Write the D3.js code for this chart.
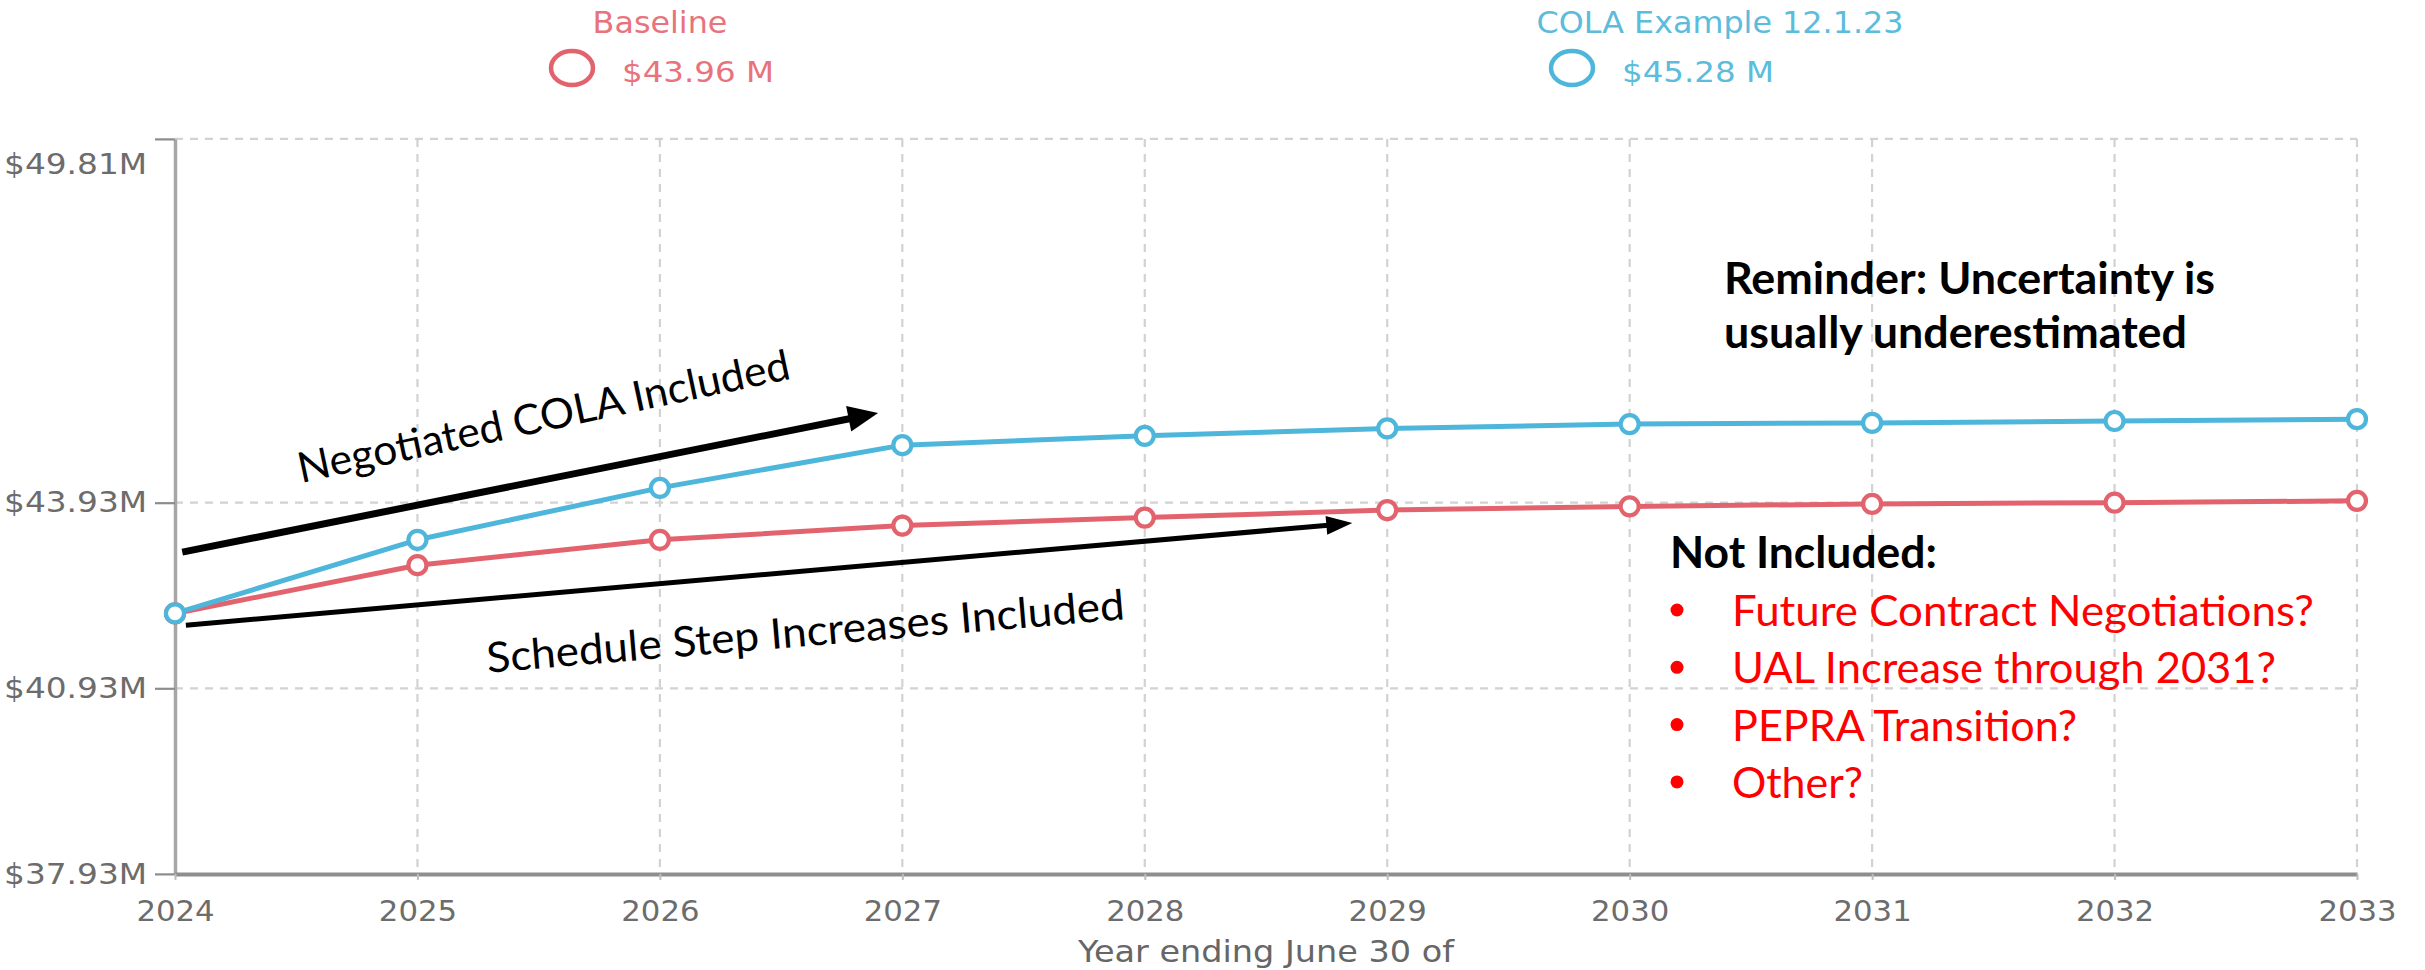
<!DOCTYPE html>
<html>
<head>
<meta charset="utf-8">
<script src="https://cdn.jsdelivr.net/npm/d3@7"></script>
<style>
  html, body { margin: 0; padding: 0; background: #ffffff; }
  svg { display: block; }
</style>
</head>
<body>
<svg id="chart" width="2425" height="970"></svg>
<script>
// ---- Data ----
const years = [2024, 2025, 2026, 2027, 2028, 2029, 2030, 2031, 2032, 2033];
const baselineValues = [42.14, 42.92, 43.33, 43.56, 43.69, 43.81, 43.87, 43.91, 43.93, 43.96];
const colaValues     = [42.14, 43.33, 44.17, 44.86, 45.01, 45.13, 45.20, 45.22, 45.25, 45.28];
const seriesNames  = ["Baseline", "COLA Example 12.1.23"];
const seriesTotals = ["$43.96 M", "$45.28 M"];
const yTickValues  = [37.93, 40.93, 43.93, 49.81];
const xAxisTitle   = "Year ending June 30 of";

const reminderLines   = ["Reminder: Uncertainty is", "usually underestimated"];
const notIncludedHead = "Not Included:";
const notIncludedList = ["Future Contract Negotiations?", "UAL Increase through 2031?", "PEPRA Transition?", "Other?"];
const colaArrowLabel     = "Negotiated COLA Included";
const scheduleArrowLabel = "Schedule Step Increases Included";

// ---- Styles ----
const RED = "#e2636d";
const BLUE = "#4db6da";
const RED_TEXT = "#e8737c";
const BLUE_TEXT = "#5bbcdc";
const TICK_TEXT = "#6c6c6c";
const GRID = "#d2d2d2";
const CHART_FONT = "'DejaVu Sans', Verdana, sans-serif";
const NOTE_FONT = "Lato, 'Open Sans', sans-serif";

const svg = d3.select("#chart");

const x = d3.scaleLinear().domain([2024, 2033]).range([175, 2357]);
const y = d3.scaleLinear().domain([37.93, 49.81]).range([873.9, 138.9]);

// widen a text element horizontally by factor k, keeping its anchor
function stretch(sel, k) {
  sel.each(function () {
    const w = this.getComputedTextLength();
    d3.select(this).attr("textLength", w * k).attr("lengthAdjust", "spacingAndGlyphs");
  });
}

// ---- Grid ----
const grid = svg.append("g");
grid.selectAll("line.h")
  .data(yTickValues.filter(v => v !== y.domain()[0]))
  .join("line")
  .attr("class", "h")
  .attr("x1", x(2024)).attr("x2", x(2033))
  .attr("y1", d => y(d)).attr("y2", d => y(d))
  .attr("stroke", GRID).attr("stroke-width", 2.2)
  .attr("stroke-dasharray", "8,7");
grid.selectAll("line.v")
  .data(years.slice(1))
  .join("line")
  .attr("class", "v")
  .attr("x1", d => x(d)).attr("x2", d => x(d))
  .attr("y1", y(49.81)).attr("y2", y(37.93))
  .attr("stroke", GRID).attr("stroke-width", 2.2)
  .attr("stroke-dasharray", "8,7");

// ---- Axes ----
const yAxis = svg.append("g")
  .attr("transform", `translate(${x(2024)},0)`)
  .call(d3.axisLeft(y)
    .tickValues(yTickValues)
    .tickSize(20)
    .tickSizeOuter(0)
    .tickPadding(8)
    .tickFormat(d => "$" + d.toFixed(2) + "M"));
yAxis.select(".domain").attr("stroke", "#a6a6a6").attr("stroke-width", 3.5);
yAxis.selectAll(".tick line").attr("stroke", "#8c8c8c").attr("stroke-width", 2.2);
yAxis.selectAll(".tick text")
  .attr("fill", TICK_TEXT)
  .style("font-family", CHART_FONT)
  .style("font-size", "29px")
  .call(stretch, 1.13);
// top label sits below its gridline
yAxis.selectAll(".tick").filter(d => d === 49.81).select("text").attr("y", 25);

const xAxis = svg.append("g")
  .attr("transform", `translate(0,${y(37.93)})`)
  .call(d3.axisBottom(x)
    .tickValues(years)
    .tickSize(6)
    .tickSizeOuter(0)
    .tickPadding(21)
    .tickFormat(d3.format("d")));
xAxis.select(".domain").attr("stroke", "#8e8e8e").attr("stroke-width", 4);
xAxis.selectAll(".tick line").attr("stroke", "#bdbdbd").attr("stroke-width", 2);
xAxis.selectAll(".tick text")
  .attr("fill", TICK_TEXT)
  .style("font-family", CHART_FONT)
  .style("font-size", "29px")
  .call(stretch, 1.06);

svg.append("text")
  .attr("x", (x(2024) + x(2033)) / 2)
  .attr("y", 962)
  .attr("text-anchor", "middle")
  .attr("fill", "#666666")
  .style("font-family", CHART_FONT)
  .style("font-size", "31px")
  .text(xAxisTitle)
  .call(stretch, 1.08);

// ---- Series ----
const series = [
  { name: seriesNames[0], total: seriesTotals[0], values: baselineValues, color: RED, textColor: RED_TEXT, legendX: 572, nameX: 660 },
  { name: seriesNames[1], total: seriesTotals[1], values: colaValues, color: BLUE, textColor: BLUE_TEXT, legendX: 1572, nameX: 1720 }
];

const line = d3.line()
  .x((d, i) => x(years[i]))
  .y(d => y(d));

series.forEach(s => {
  const g = svg.append("g");
  g.append("path")
    .datum(s.values)
    .attr("d", line)
    .attr("fill", "none")
    .attr("stroke", s.color)
    .attr("stroke-width", 5)
    .attr("stroke-linejoin", "round");
  g.selectAll("circle")
    .data(s.values)
    .join("circle")
    .attr("cx", (d, i) => x(years[i]))
    .attr("cy", d => y(d))
    .attr("r", 9)
    .attr("fill", "#ffffff")
    .attr("stroke", s.color)
    .attr("stroke-width", 4.2);
});

// ---- Legend ----
series.forEach(s => {
  const g = svg.append("g");
  g.append("text")
    .attr("x", s.nameX).attr("y", 33)
    .attr("text-anchor", "middle")
    .attr("fill", s.textColor)
    .style("font-family", CHART_FONT)
    .style("font-size", "30px")
    .text(s.name)
    .call(stretch, 1.06);
  g.append("ellipse")
    .attr("cx", s.legendX).attr("cy", 68)
    .attr("rx", 21).attr("ry", 17)
    .attr("fill", "none")
    .attr("stroke", s.color)
    .attr("stroke-width", 4.5);
  g.append("text")
    .attr("x", s.legendX + 50).attr("y", 82)
    .attr("fill", s.textColor)
    .style("font-family", CHART_FONT)
    .style("font-size", "29px")
    .text(s.total)
    .call(stretch, 1.12);
});

// ---- Annotations ----
function arrow(x1, y1, x2, y2, width, headLen, headWidth) {
  const ang = Math.atan2(y2 - y1, x2 - x1);
  const bx = x2 - headLen * Math.cos(ang), by = y2 - headLen * Math.sin(ang);
  const nx = -Math.sin(ang), ny = Math.cos(ang);
  svg.append("line")
    .attr("x1", x1).attr("y1", y1).attr("x2", bx + 2 * Math.cos(ang)).attr("y2", by + 2 * Math.sin(ang))
    .attr("stroke", "#000").attr("stroke-width", width);
  svg.append("polygon")
    .attr("points", [[x2, y2], [bx + nx * headWidth / 2, by + ny * headWidth / 2], [bx - nx * headWidth / 2, by - ny * headWidth / 2]].map(p => p.join(",")).join(" "))
    .attr("fill", "#000");
}

arrow(x(2024.03), y(43.13), x(2026.90), y(45.38), 7, 30, 26);
arrow(x(2024.045), y(41.95), x(2028.856), y(43.60), 5, 26, 19);

function rotatedLabel(text, xv, yv, angle, len) {
  svg.append("text")
    .attr("transform", `translate(${x(xv)},${y(yv)}) rotate(${angle})`)
    .attr("fill", "#000")
    .attr("textLength", len)
    .attr("lengthAdjust", "spacingAndGlyphs")
    .style("font-family", NOTE_FONT)
    .style("font-size", "42px")
    .text(text);
}
rotatedLabel(colaArrowLabel, 2024.52, 44.25, -12, 502);
rotatedLabel(scheduleArrowLabel, 2025.29, 41.18, -4.8, 640);

// Reminder note
const reminderWidths = [491, 463];
reminderLines.forEach((t, i) => {
  svg.append("text")
    .attr("x", 1724).attr("y", 294 + i * 54)
    .attr("fill", "#000")
    .attr("textLength", reminderWidths[i])
    .attr("lengthAdjust", "spacingAndGlyphs")
    .style("font-family", NOTE_FONT)
    .style("font-weight", 700)
    .style("font-size", "43px")
    .text(t);
});

// Not-included list
svg.append("text")
  .attr("x", 1670).attr("y", 568)
  .attr("fill", "#000")
  .attr("textLength", 267)
  .attr("lengthAdjust", "spacingAndGlyphs")
  .style("font-family", NOTE_FONT)
  .style("font-weight", 700)
  .style("font-size", "43px")
  .text(notIncludedHead);

const listWidths = [582, 544, 345, 131];
const list = svg.append("g");
notIncludedList.forEach((t, i) => {
  const by = 626 + i * 57.3;
  list.append("circle")
    .attr("cx", 1677).attr("cy", by - 16)
    .attr("r", 6.5)
    .attr("fill", "#ff0000");
  list.append("text")
    .attr("x", 1732).attr("y", by)
    .attr("fill", "#ff0000")
    .attr("textLength", listWidths[i])
    .attr("lengthAdjust", "spacingAndGlyphs")
    .style("font-family", NOTE_FONT)
    .style("font-size", "42px")
    .text(t);
});
</script>
</body>
</html>
